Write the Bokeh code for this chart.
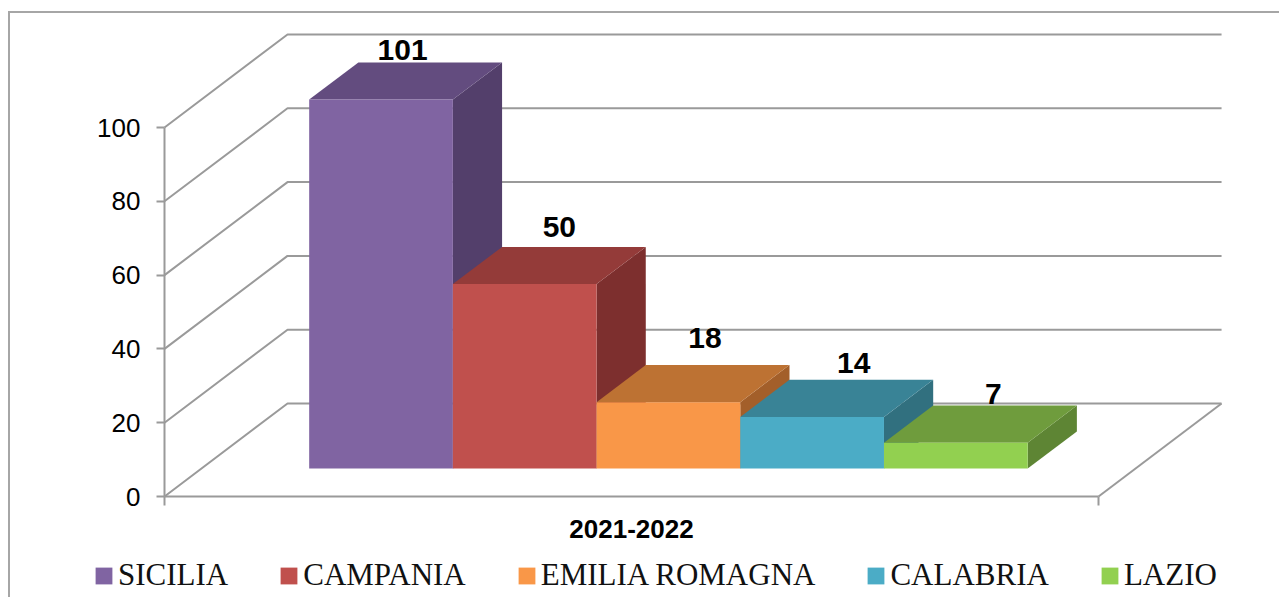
from bokeh.plotting import figure
from bokeh.models import (LinearAxis, FixedTicker, Range1d, Legend, LegendItem)
from bokeh.core.properties import value
from bokeh.embed import file_html
from bokeh.resources import INLINE

# --- data ---
regions = ["SICILIA", "CAMPANIA", "EMILIA ROMAGNA", "CALABRIA", "LAZIO"]
students = [101, 50, 18, 14, 7]
year = "2021-2022"
y_ticks = [0, 20, 40, 60, 80, 100]

# --- style ---
front_colors = ["#8064A2", "#C0504D", "#F99748", "#4BACC6", "#92D050"]
top_colors = ["#634C7F", "#943B39", "#BD7233", "#398396", "#6F9C3D"]
side_colors = ["#533F6B", "#7D2F2E", "#A35F2A", "#31707F", "#5E8534"]
GRID = "#9A9A9A"
label_dx = [-3, 10, 12, 17, 13]       # px, from the centre of the bar's top face
label_dy = [12, 20, 27, 17, 12]       # px, above the back edge of the top face

# --- oblique projection, in axis units ---
axis_max = 100
gap = 1.5                             # bar widths of gap (split each side)
n_slots = len(regions) + gap
DX, DV = 0.856, 25.2                  # full depth of the floor, in x and y units
D0, D1 = 0.3, 0.7                     # bar depth span inside the floor


def proj(x, v, d):
    return x + d * DX, v + d * DV


# the frame fills the whole figure; the axes sit inside it at fixed data locations
MARGIN_L, MARGIN_T = 10, 13
W, H = 1281 - MARGIN_L, 599 - MARGIN_T
PX_X, PX_Y = 143.7, 3.69              # pixels per bar width, pixels per value
ORIGIN_X, ORIGIN_Y = 164 - MARGIN_L, 496 - MARGIN_T
p = figure(width=W, height=H, output_backend="svg", toolbar_location=None,
           x_range=Range1d(-ORIGIN_X / PX_X, (W - ORIGIN_X) / PX_X),
           y_range=Range1d(-(H - ORIGIN_Y) / PX_Y, ORIGIN_Y / PX_Y),
           min_border_left=0, min_border_right=0, min_border_top=0, min_border_bottom=0,
           x_axis_location=None, y_axis_location=None,
           background_fill_color="white", margin=(MARGIN_T, 0, 0, MARGIN_L),
           styles={"box-shadow": "-2px -2px 0 #A6A6A6"})
p.grid.visible = False
p.outline_line_color = None

# walls and floor
for t in y_ticks:
    (x0, y0), (x1, y1), (x2, y2) = (0, t), proj(0, t, 1), proj(n_slots, t, 1)
    p.line([x0, x1, x2], [y0, y1, y2], line_color=GRID, line_width=2)
(xa, ya), (xb, yb) = proj(n_slots, 0, 0), proj(n_slots, 0, 1)
p.line([xa, xb], [ya, yb], line_color=GRID, line_width=2)

# bars
items = []
for i, (name, val) in enumerate(zip(regions, students)):
    v = min(val, axis_max)
    left = gap / 2 + i
    right = left + 1
    fl = proj(left, v, D0); fr = proj(right, v, D0)
    bl = proj(left, v, D1); br = proj(right, v, D1)
    rb = proj(right, 0, D0); rbb = proj(right, 0, D1)
    p.patch([fr[0], br[0], rbb[0], rb[0]], [fr[1], br[1], rbb[1], rb[1]],
            fill_color=side_colors[i], line_color=None)
    p.patch([fl[0], fr[0], br[0], bl[0]], [fl[1], fr[1], br[1], bl[1]],
            fill_color=top_colors[i], line_color=None)
    r = p.quad(left=[fl[0]], right=[fr[0]], bottom=[proj(left, 0, D0)[1]], top=[fl[1]],
               fill_color=front_colors[i], line_color=None)
    items.append(LegendItem(label=value(name), renderers=[r]))
    p.text(x=[(fl[0] + br[0]) / 2], y=[bl[1]], text=[str(val)], text_align="center",
           text_baseline="alphabetic", x_offset=label_dx[i], y_offset=-label_dy[i],
           text_font=value("Liberation Sans"), text_font_style="bold",
           text_font_size="30px", text_color="black")

# axes
ya_axis = LinearAxis(ticker=FixedTicker(ticks=y_ticks), bounds=(0, axis_max), fixed_location=0)
ya_axis.axis_line_color = GRID; ya_axis.axis_line_width = 2
ya_axis.major_tick_line_color = GRID; ya_axis.major_tick_line_width = 2
ya_axis.major_tick_in = 0; ya_axis.major_tick_out = 8; ya_axis.minor_tick_line_color = None
ya_axis.major_label_text_font = "Liberation Sans"; ya_axis.major_label_text_font_size = "26px"
ya_axis.major_label_text_color = "black"; ya_axis.major_label_standoff = 16
p.add_layout(ya_axis, "left")

xa_axis = LinearAxis(ticker=FixedTicker(ticks=[n_slots / 2], minor_ticks=[0, n_slots]),
                     bounds=(0, n_slots), major_label_overrides={n_slots / 2: year},
                     fixed_location=0)
xa_axis.axis_line_color = GRID; xa_axis.axis_line_width = 2
xa_axis.major_tick_line_color = None
xa_axis.major_tick_in = 0; xa_axis.major_tick_out = 9
xa_axis.minor_tick_line_color = GRID; xa_axis.minor_tick_line_width = 2
xa_axis.minor_tick_in = 0; xa_axis.minor_tick_out = 9
xa_axis.major_label_text_font = "Liberation Sans"; xa_axis.major_label_text_font_style = "bold"
xa_axis.major_label_text_font_size = "26px"; xa_axis.major_label_text_color = "black"
xa_axis.major_label_standoff = 14
p.add_layout(xa_axis, "below")

# legend, in frame coordinates
legend = Legend(items=items, orientation="horizontal", location=(83, 6), margin=0, padding=0,
                spacing=50, label_standoff=4, glyph_width=21, glyph_height=21,
                label_text_font="Liberation Serif", label_text_font_size="31px",
                label_text_color="#111111", border_line_color=None, background_fill_alpha=0)
p.add_layout(legend, "center")

open("out.html", "w").write(file_html(p, INLINE))
